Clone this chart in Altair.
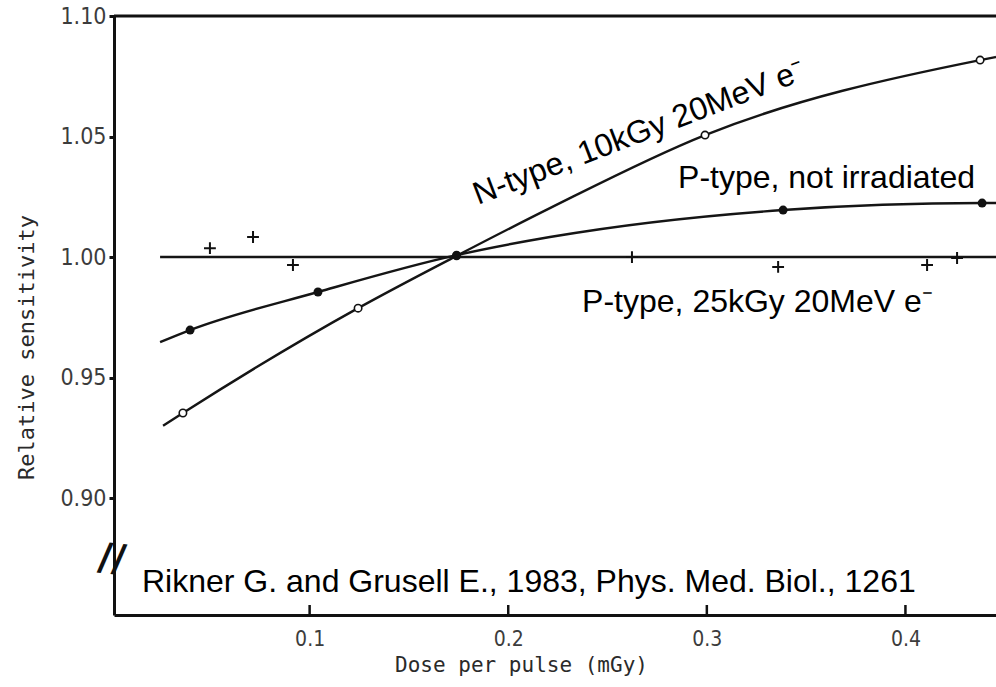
import altair as alt
import pandas as pd

# ---------------- data ----------------
# N-type, 10kGy 20MeV e- : fitted curve (read points) and open-circle measurements
n_curve_x = [0.0262, 0.0362, 0.1244, 0.174, 0.221, 0.2991, 0.4376, 0.4456]
n_curve_y = [0.9300, 0.9353, 0.9788, 1.0005, 1.0203, 1.0506, 1.0817, 1.0830]
n_pts_x = [0.0362, 0.1244, 0.174, 0.2991, 0.4376]
n_pts_y = [0.9353, 0.9788, 1.0005, 1.0506, 1.0817]

# P-type, not irradiated : fitted curve and filled-circle measurements
p_curve_x = [0.0247, 0.0398, 0.1042, 0.174, 0.221, 0.3384, 0.4386, 0.4456]
p_curve_y = [0.9647, 0.9697, 0.9855, 1.0008, 1.0083, 1.0195, 1.0224, 1.0224]
p_pts_x = [0.0398, 0.1042, 0.174, 0.3384, 0.4386]
p_pts_y = [0.9697, 0.9855, 1.0008, 1.0195, 1.0224]

# P-type, 25kGy 20MeV e- : flat fit and plus-marker measurements
q_line_x = [0.0247, 0.4456]
q_line_y = [1.000, 1.000]
q_pts_x = [0.0498, 0.0715, 0.0916, 0.2623, 0.3359, 0.4109, 0.4260]
q_pts_y = [1.0037, 1.0083, 0.9967, 1.0000, 0.9959, 0.9967, 0.9996]

x_ticks = [0.1, 0.2, 0.3, 0.4]
y_ticks = [0.90, 0.95, 1.00, 1.05, 1.10]
x_domain = [0.0015, 0.4456]
y_domain = [0.8515, 1.10]
frame_top = [1.10]

labels = ["N-type, 10kGy 20MeV e\u207b", "P-type, not irradiated", "P-type, 25kGy 20MeV e\u207b",
          "Rikner G. and Grusell E., 1983, Phys. Med. Biol., 1261"]
label_x = [0.1848, 0.2855, 0.2372, 0.0156]
label_y = [1.0216, 1.0286, 0.9772, 0.8610]
label_angle = [339, 0, 0, 0]

break_x = [0.0005]
break_y = [0.8745]

# ---------------- chart ----------------
xs = alt.Scale(domain=x_domain, nice=False, zero=False)
ys = alt.Scale(domain=y_domain, nice=False, zero=False)

TICKFONT = "DejaVu Sans Condensed, DejaVu Sans"
TITLEFONT = "DejaVu Sans Mono"
LINE = "#151515"

x_axis = alt.Axis(values=x_ticks, format=".1f", ticks=False, domainColor="#111", domainWidth=3,
                  labelFont=TICKFONT, labelFontSize=21, labelColor="#3c3c3c", labelPadding=13,
                  grid=False, title="Dose per pulse (mGy)", titleFont=TITLEFONT, titleFontSize=21,
                  titleFontWeight="normal", titleColor="#2a2a2a", titleX=407, titleY=50,
                  titleBaseline="middle")
y_axis = alt.Axis(values=y_ticks, format=".2f", tickSize=5, tickWidth=3, tickColor="#111",
                  domainColor="#111", domainWidth=3, labelFont=TICKFONT, labelFontSize=23,
                  labelColor="#3c3c3c", labelPadding=3, grid=False,
                  title="Relative sensitivity", titleFont=TITLEFONT, titleFontSize=22,
                  titleFontWeight="normal", titleColor="#2a2a2a", titleX=-88, titleY=331,
                  titleAngle=270, titleAlign="center", titleBaseline="middle")

df_n = pd.DataFrame({"x": n_curve_x, "y": n_curve_y})
df_p = pd.DataFrame({"x": p_curve_x, "y": p_curve_y})
df_q = pd.DataFrame({"x": q_line_x, "y": q_line_y})

X = lambda: alt.X("x:Q", scale=xs)
Y = lambda: alt.Y("y:Q", scale=ys)

n_line = alt.Chart(df_n).mark_line(color=LINE, strokeWidth=2.4, interpolate="monotone").encode(
    x=alt.X("x:Q", scale=xs, axis=x_axis), y=alt.Y("y:Q", scale=ys, axis=y_axis))
p_line = alt.Chart(df_p).mark_line(color=LINE, strokeWidth=2.4, interpolate="monotone").encode(
    x=X(), y=Y())
q_line = alt.Chart(df_q).mark_line(color=LINE, strokeWidth=2.4).encode(x=X(), y=Y())

# inward-pointing x ticks on the bottom axis
ticks = alt.Chart(pd.DataFrame({"x": x_ticks})).mark_rule(
    color="#111", strokeWidth=2.5, y2Offset=-10
).encode(x=X(), y=alt.datum(y_domain[0], scale=ys), y2=alt.datum(y_domain[0]))

frame = alt.Chart(pd.DataFrame({"y": frame_top})).mark_rule(color="#111", strokeWidth=3).encode(
    y=Y())

n_pts = alt.Chart(pd.DataFrame({"x": n_pts_x, "y": n_pts_y})).mark_point(
    shape="circle", filled=True, fill="white", stroke="#111", strokeWidth=1.6, size=55, opacity=1
).encode(x=X(), y=Y())
p_pts = alt.Chart(pd.DataFrame({"x": p_pts_x, "y": p_pts_y})).mark_circle(
    color="#111", size=80, opacity=1
).encode(x=X(), y=Y())
q_pts = alt.Chart(pd.DataFrame({"x": q_pts_x, "y": q_pts_y})).mark_point(
    shape="M-1,0L1,0M0,-1L0,1", filled=False, stroke="#111", strokeWidth=2, size=140, opacity=1
).encode(x=X(), y=Y())

df_lab = pd.DataFrame({"t": labels, "x": label_x, "y": label_y, "a": label_angle})
texts = alt.Chart(df_lab).mark_text(font="Liberation Sans", fontSize=32, color="black",
                                    align="left", baseline="alphabetic").encode(
    x=X(), y=Y(), text="t:N", angle=alt.Angle("a:Q", scale=None))

brk = alt.Chart(pd.DataFrame({"x": break_x, "y": break_y})).mark_text(
    text="//", font="DejaVu Sans", fontSize=38, fontWeight="bold", color="#111", angle=6,
    align="center", baseline="middle").encode(x=X(), y=Y())

chart = alt.layer(n_line, p_line, q_line, ticks, frame, n_pts, p_pts, q_pts, texts, brk).properties(
    width=882, height=599,
    autosize=alt.AutoSizeParams(type="none"),
    padding={"left": 114, "top": 16, "right": 0, "bottom": 72},
    background="white",
).configure_view(stroke=None)

chart.save("out.html", embed_options={"renderer": "svg", "actions": False})
